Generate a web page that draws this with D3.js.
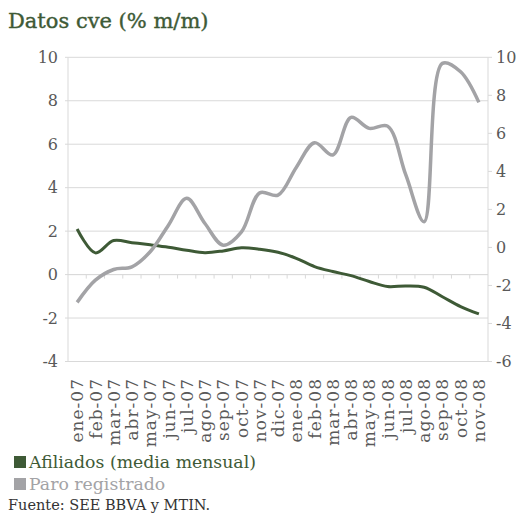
<!DOCTYPE html>
<html>
<head>
<meta charset="utf-8">
<script src="https://d3js.org/d3.v7.min.js"></script>
<style>
  body { margin: 0; background: #fff; }
  text { font-family: "DejaVu Serif", serif; }
</style>
</head>
<body>
<div id="chart"></div>
<script>
// categories
var months = ["ene-07","feb-07","mar-07","abr-07","may-07","jun-07","jul-07","ago-07","sep-07","oct-07","nov-07","dic-07",
              "ene-08","feb-08","mar-08","abr-08","may-08","jun-08","jul-08","ago-08","sep-08","oct-08","nov-08"];
// Afiliados (media mensual), left axis
var afiliados = [2.1, 1.0, 1.57, 1.47, 1.37, 1.26, 1.12, 1.01, 1.09, 1.23, 1.17, 1.03,
                 0.75, 0.37, 0.14, -0.05, -0.32, -0.55, -0.52, -0.58, -1.02, -1.47, -1.81];
// Paro registrado, right axis
var paro = [-2.89, -1.72, -1.16, -1.02, -0.23, 1.17, 2.58, 1.26, 0.12, 0.82, 2.87, 2.75,
            4.21, 5.51, 4.86, 6.84, 6.26, 6.38, 3.81, 1.35, 9.68, 9.24, 7.63];
var leftTicks = [-4, -2, 0, 2, 4, 6, 8, 10];
var rightTicks = [-6, -4, -2, 0, 2, 4, 6, 8, 10];

var W = 518, H = 520;
var pLeft = 68, pRight = 488, pTop = 57.3, pBottom = 361.5;

var svg = d3.select("#chart").append("svg")
  .attr("width", W).attr("height", H);

var x = d3.scaleBand().domain(months).range([pLeft, pRight]);
var yL = d3.scaleLinear().domain([-4, 10]).range([pBottom, pTop]);
var yR = d3.scaleLinear().domain([-6, 10]).range([pBottom, pTop]);

var green = "#3e5a36", grey = "#a3a3a6", gridC = "#d9d9d9", txt = "#595959";

// title
svg.append("text")
  .attr("x", 8).attr("y", 28)
  .style("font-size", "21px")
  .attr("fill", green)
  .attr("stroke", green).attr("stroke-width", 0.4)
  .text("Datos cve (% m/m)");

// gridlines
svg.append("g").selectAll("line")
  .data(leftTicks)
  .join("line")
  .attr("x1", pLeft - 3).attr("x2", pRight)
  .attr("y1", d => yL(d)).attr("y2", d => yL(d))
  .attr("stroke", gridC).attr("stroke-width", 1);

// left axis line + labels
svg.append("line")
  .attr("x1", pLeft).attr("x2", pLeft).attr("y1", pTop).attr("y2", pBottom)
  .attr("stroke", gridC);
svg.append("g").selectAll("text")
  .data(leftTicks)
  .join("text")
  .attr("x", pLeft - 10).attr("y", d => yL(d))
  .attr("dy", "0.35em")
  .attr("text-anchor", "end")
  .style("font-size", "16px")
  .attr("fill", txt)
  .text(d => d);

// right axis
svg.append("line")
  .attr("x1", pRight).attr("x2", pRight).attr("y1", pTop).attr("y2", pBottom)
  .attr("stroke", gridC);
svg.append("g").selectAll("line")
  .data(rightTicks)
  .join("line")
  .attr("x1", pRight).attr("x2", pRight + 4)
  .attr("y1", d => yR(d)).attr("y2", d => yR(d))
  .attr("stroke", gridC);
svg.append("g").selectAll("text")
  .data(rightTicks)
  .join("text")
  .attr("x", pRight + 8).attr("y", d => yR(d))
  .attr("dy", "0.35em")
  .style("font-size", "16px")
  .attr("fill", txt)
  .text(d => d);

// category axis at zero
var y0 = yL(0);
svg.append("line")
  .attr("x1", pLeft).attr("x2", pRight).attr("y1", y0).attr("y2", y0)
  .attr("stroke", gridC);
svg.append("g").selectAll("line")
  .data(months.slice(1))
  .join("line")
  .attr("x1", d => x(d)).attr("x2", d => x(d))
  .attr("y1", y0).attr("y2", y0 + 4)
  .attr("stroke", gridC);

// category labels at the bottom
svg.append("g").selectAll("text")
  .data(months)
  .join("text")
  .attr("transform", d => `translate(${x(d) + x.bandwidth() / 2},${pBottom + 16.5}) rotate(-90)`)
  .attr("dy", "0.36em")
  .attr("text-anchor", "end")
  .style("font-size", "17px")
  .style("letter-spacing", "1px")
  .attr("fill", txt)
  .text(d => d);

var cx = d => x(d) + x.bandwidth() / 2;

// lines
var lineL = d3.line()
  .x((d, i) => cx(months[i]))
  .y(d => yL(d))
  .curve(d3.curveCatmullRom.alpha(0.5));
var lineR = d3.line()
  .x((d, i) => cx(months[i]))
  .y(d => yR(d))
  .curve(d3.curveCatmullRom.alpha(0.5));

svg.append("path")
  .datum(afiliados)
  .attr("fill", "none")
  .attr("stroke", green)
  .attr("stroke-width", 3)
  .attr("d", lineL);

svg.append("path")
  .datum(paro)
  .attr("fill", "none")
  .attr("stroke", grey)
  .attr("stroke-width", 3.5)
  .attr("d", lineR);

// legend
var legend = [{name: "Afiliados (media mensual)", color: green},
              {name: "Paro registrado", color: grey}];
var lg = svg.append("g").selectAll("g")
  .data(legend)
  .join("g")
  .attr("transform", (d, i) => `translate(14,${462 + i * 22})`);
lg.append("rect")
  .attr("x", 0).attr("y", -6)
  .attr("width", 12).attr("height", 12)
  .attr("fill", d => d.color);
lg.append("text")
  .attr("x", 15).attr("y", 0)
  .attr("dy", "0.35em")
  .style("font-size", "17.3px")
  .attr("fill", d => d.color)
  .text(d => d.name);

// source
svg.append("text")
  .attr("x", 8).attr("y", 510)
  .style("font-size", "14.5px")
  .attr("fill", "#333")
  .text("Fuente: SEE BBVA y MTIN.");
</script>
</body>
</html>
